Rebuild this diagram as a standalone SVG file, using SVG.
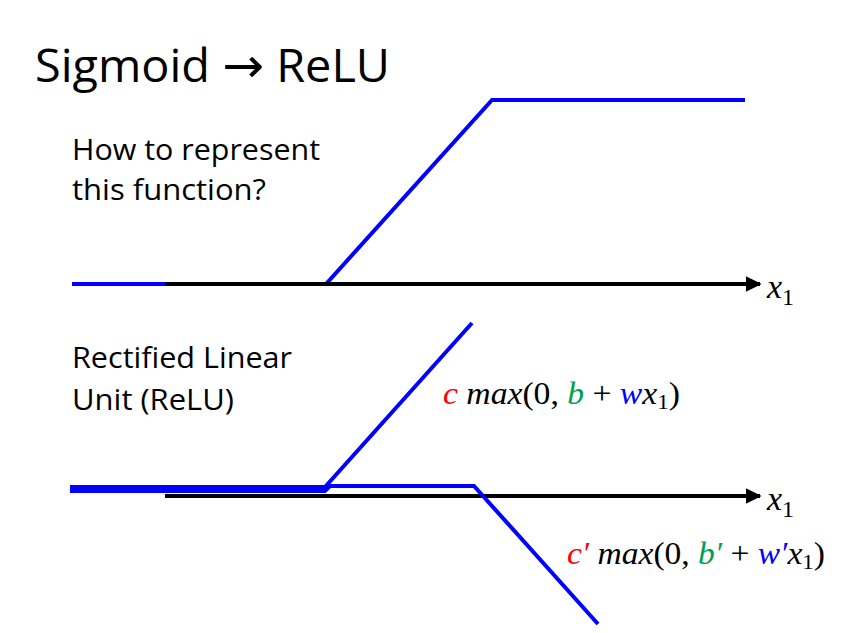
<svg xmlns="http://www.w3.org/2000/svg" width="857" height="633" viewBox="0 0 857 633">
<defs>
<marker id="arr" viewBox="0 0 10 10" refX="9" refY="5" markerWidth="4" markerHeight="4" markerUnits="strokeWidth" orient="auto">
<path d="M0,0 L10,5 L0,10 z" fill="#000"/>
</marker>
<style>
.t{font-family:"Open Sans","Liberation Sans",sans-serif;fill:#000}
.m{font-family:"Liberation Serif","DejaVu Serif",serif;font-style:italic;fill:#000}
.n{font-style:normal}
.blue{fill:none;stroke:#0000ff;stroke-width:4}
.ax{fill:none;stroke:#000;stroke-width:4}
.r{fill:#ff0000}.g{fill:#00a050}.b{fill:#0000ff}
</style>
</defs>
<rect width="857" height="633" fill="#fff"/>
<g id="title"><text class="t" x="35" y="82" font-size="45" textLength="355" lengthAdjust="spacingAndGlyphs">Sigmoid <tspan font-family="DejaVu Sans, sans-serif" font-size="48">→</tspan> ReLU</text></g>
<g id="q"><text class="t" x="72" y="160" font-size="29" textLength="248" lengthAdjust="spacingAndGlyphs">How to represent</text>
<text class="t" x="72" y="200" font-size="29" textLength="194" lengthAdjust="spacingAndGlyphs">this function?</text></g>
<g id="relu-label"><text class="t" x="72" y="368" font-size="29" textLength="220" lengthAdjust="spacingAndGlyphs">Rectified Linear</text>
<text class="t" x="72" y="410" font-size="29" textLength="162" lengthAdjust="spacingAndGlyphs">Unit (ReLU)</text></g>
<g id="connectors">
<polyline class="blue" points="72,284 326,284 492,100 745,100"/>
<line class="ax" x1="165" y1="284" x2="760" y2="284" marker-end="url(#arr)"/>
<line class="ax" x1="165" y1="496" x2="760" y2="496" marker-end="url(#arr)"/>
<polyline class="blue" points="70,487 325,487 472,323"/>
<polyline class="blue" points="70,491 325,491 330,486 474,486 598,624"/>
</g>
<g id="x1-top"><text class="m" x="767" y="298" font-size="34">x<tspan class="n" font-size="24" dy="7">1</tspan></text></g>
<g id="x1-bot"><text class="m" x="767" y="510" font-size="34">x<tspan class="n" font-size="24" dy="7">1</tspan></text></g>
<g id="f1"><text class="m" x="443" y="404" font-size="32" textLength="237" lengthAdjust="spacingAndGlyphs"><tspan class="r">c</tspan> max<tspan class="n">(0, </tspan><tspan class="g">b</tspan><tspan class="n"> + </tspan><tspan class="b">w</tspan>x<tspan class="n" font-size="22" dy="5">1</tspan><tspan class="n" dy="-5">)</tspan></text></g>
<g id="f2"><text class="m" x="567" y="564" font-size="32" textLength="258" lengthAdjust="spacingAndGlyphs"><tspan class="r">c′</tspan> max<tspan class="n">(0, </tspan><tspan class="g">b′</tspan><tspan class="n"> + </tspan><tspan class="b">w′</tspan>x<tspan class="n" font-size="22" dy="5">1</tspan><tspan class="n" dy="-5">)</tspan></text></g>
</svg>
